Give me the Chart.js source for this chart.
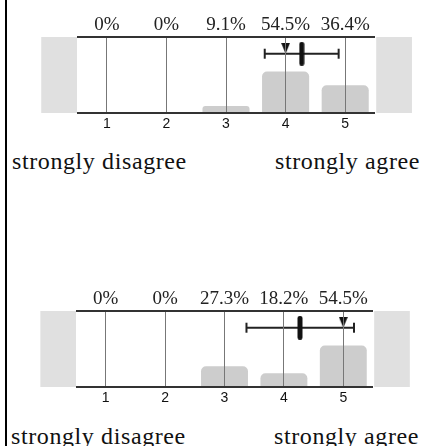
<!DOCTYPE html>
<html>
<head>
<meta charset="utf-8">
<script src="https://cdn.jsdelivr.net/npm/chart.js@4"></script>
<style>
  body { margin: 0; width: 433px; height: 446px; background: #fff; position: relative; overflow: hidden; }
  .panel { position: absolute; left: 0; width: 433px; height: 140px; }
  .lbl { position: absolute; font-family: 'Liberation Serif', serif; font-size: 24px; line-height: 24px; letter-spacing: 0.6px; color: #111; white-space: nowrap; }
  #edge { position: absolute; left: 5px; top: 0; width: 2px; height: 446px; background: #000; }
</style>
</head>
<body>
<div id="edge"></div>
<div class="panel" style="top:0"><canvas id="q1"></canvas></div>
<div class="lbl" id="l1a" style="left:12px;top:149px"></div>
<div class="lbl" id="l1b" style="left:275px;top:149px"></div>
<div class="panel" style="top:274px"><canvas id="q2"></canvas></div>
<div class="lbl" id="l2a" style="left:11px;top:424px"></div>
<div class="lbl" id="l2b" style="left:274px;top:424px"></div>
<script>
// answer options 1..5 and share of answers (%) per option
const categories = [1, 2, 3, 4, 5];
const pctQ1 = [0, 0, 9.1, 54.5, 36.4];
const pctQ2 = [0, 0, 27.3, 18.2, 54.5];
const pctLabelsQ1 = ['0%', '0%', '9.1%', '54.5%', '36.4%'];
const pctLabelsQ2 = ['0%', '0%', '27.3%', '18.2%', '54.5%'];
// mean, mean +/- sd and median on the 1..5 scale
const meanQ1 = 4.27;
const sdRangeQ1 = [3.65, 4.89];
const medianQ1 = 4;
const meanQ2 = 4.27;
const sdRangeQ2 = [3.37, 5.18];
const medianQ2 = 5;
const scaleEnds = ['strongly disagree', 'strongly agree'];

document.getElementById('l1a').textContent = scaleEnds[0];
document.getElementById('l1b').textContent = scaleEnds[1];
document.getElementById('l2a').textContent = scaleEnds[0];
document.getElementById('l2b').textContent = scaleEnds[1];

const MARK_Y = 78;

function markerCanvas(w, h, draw) {
  const c = document.createElement('canvas');
  c.width = w; c.height = h;
  draw(c.getContext('2d'));
  return c;
}
const triImg = markerCanvas(9, 22, g => {
  g.fillStyle = '#111';
  g.beginPath(); g.moveTo(0, 0); g.lineTo(9, 0); g.lineTo(4.5, 11); g.closePath(); g.fill();
});
const meanImg = markerCanvas(6, 24, g => {
  g.fillStyle = '#111';
  g.beginPath(); g.roundRect(0.5, 0, 5, 24, 2.5); g.fill();
});

// grey boxes left and right of the plot
const sideBoxes = {
  id: 'sideBoxes',
  beforeDatasetsDraw(chart) {
    const { ctx, chartArea, scales: { x } } = chart;
    ctx.save();
    ctx.fillStyle = '#e0e0e0';
    const l0 = x.getPixelForValue(-0.1), l1 = x.getPixelForValue(0.5);
    const r0 = x.getPixelForValue(5.52), r1 = x.getPixelForValue(6.12);
    ctx.fillRect(l0, chartArea.top, l1 - l0, chartArea.bottom - chartArea.top);
    ctx.fillRect(r0, chartArea.top, r1 - r0, chartArea.bottom - chartArea.top);
    ctx.restore();
  }
};

function makeChart(id, pcts, pctLabels, mean, sdRange, median, padL, padR) {
  const ticksOnCats = s => { s.ticks = categories.map(v => ({ value: v })); };
  return new Chart(document.getElementById(id), {
    data: {
      datasets: [
        {
          type: 'bar',
          data: categories.map((c, i) => ({ x: c, y: pcts[i] })),
          backgroundColor: '#cdcdcd',
          borderRadius: { topLeft: 5, topRight: 5 },
          borderSkipped: 'bottom',
          barPercentage: 0.79,
          categoryPercentage: 1,
          order: 3
        },
        {
          type: 'line',
          data: sdRange.map(v => ({ x: v, y: MARK_Y })),
          borderColor: '#222',
          borderWidth: 2,
          pointStyle: 'line',
          rotation: 90,
          pointRadius: 5,
          pointBorderWidth: 2,
          pointBorderColor: '#222',
          order: 2
        },
        { type: 'scatter', data: [{ x: median, y: MARK_Y }], pointStyle: triImg, order: 1 },
        { type: 'scatter', data: [{ x: mean, y: MARK_Y }], pointStyle: meanImg, order: 0 }
      ]
    },
    options: {
      responsive: true,
      maintainAspectRatio: false,
      animation: false,
      layout: { padding: { left: padL, right: padR, top: 0, bottom: 0 } },
      plugins: { legend: { display: false }, tooltip: { enabled: false } },
      scales: {
        x: {
          type: 'linear', min: 0.5, max: 5.5, offset: false,
          afterBuildTicks: ticksOnCats,
          afterFit: s => { s.height = 27; },
          grid: { color: '#777', lineWidth: 1, drawTicks: false, offset: false, z: 1 },
          border: { display: false },
          ticks: { padding: 3, color: '#111', font: { family: 'Liberation Sans', size: 14 }, callback: v => v }
        },
        xTop: {
          type: 'linear', position: 'top', min: 0.5, max: 5.5, offset: false,
          afterBuildTicks: ticksOnCats,
          afterFit: s => { s.height = 37; },
          grid: { display: false, drawTicks: false, offset: false },
          border: { display: false },
          ticks: { padding: 1, color: '#222', font: { family: 'Liberation Serif', size: 19 }, callback: (v, i) => pctLabels[i] }
        },
        y: {
          min: 0, max: 100,
          afterBuildTicks: s => { s.ticks = [{ value: 0 }, { value: 100 }]; },
          afterFit: s => { s.width = 0; },
          grid: { color: '#333', lineWidth: 2, drawTicks: false, z: 1 },
          border: { display: false },
          ticks: { display: false }
        }
      }
    },
    plugins: [sideBoxes]
  });
}

makeChart('q1', pctQ1, pctLabelsQ1, meanQ1, sdRangeQ1, medianQ1, 77, 58);
makeChart('q2', pctQ2, pctLabelsQ2, meanQ2, sdRangeQ2, medianQ2, 76, 60);
</script>
</body>
</html>
